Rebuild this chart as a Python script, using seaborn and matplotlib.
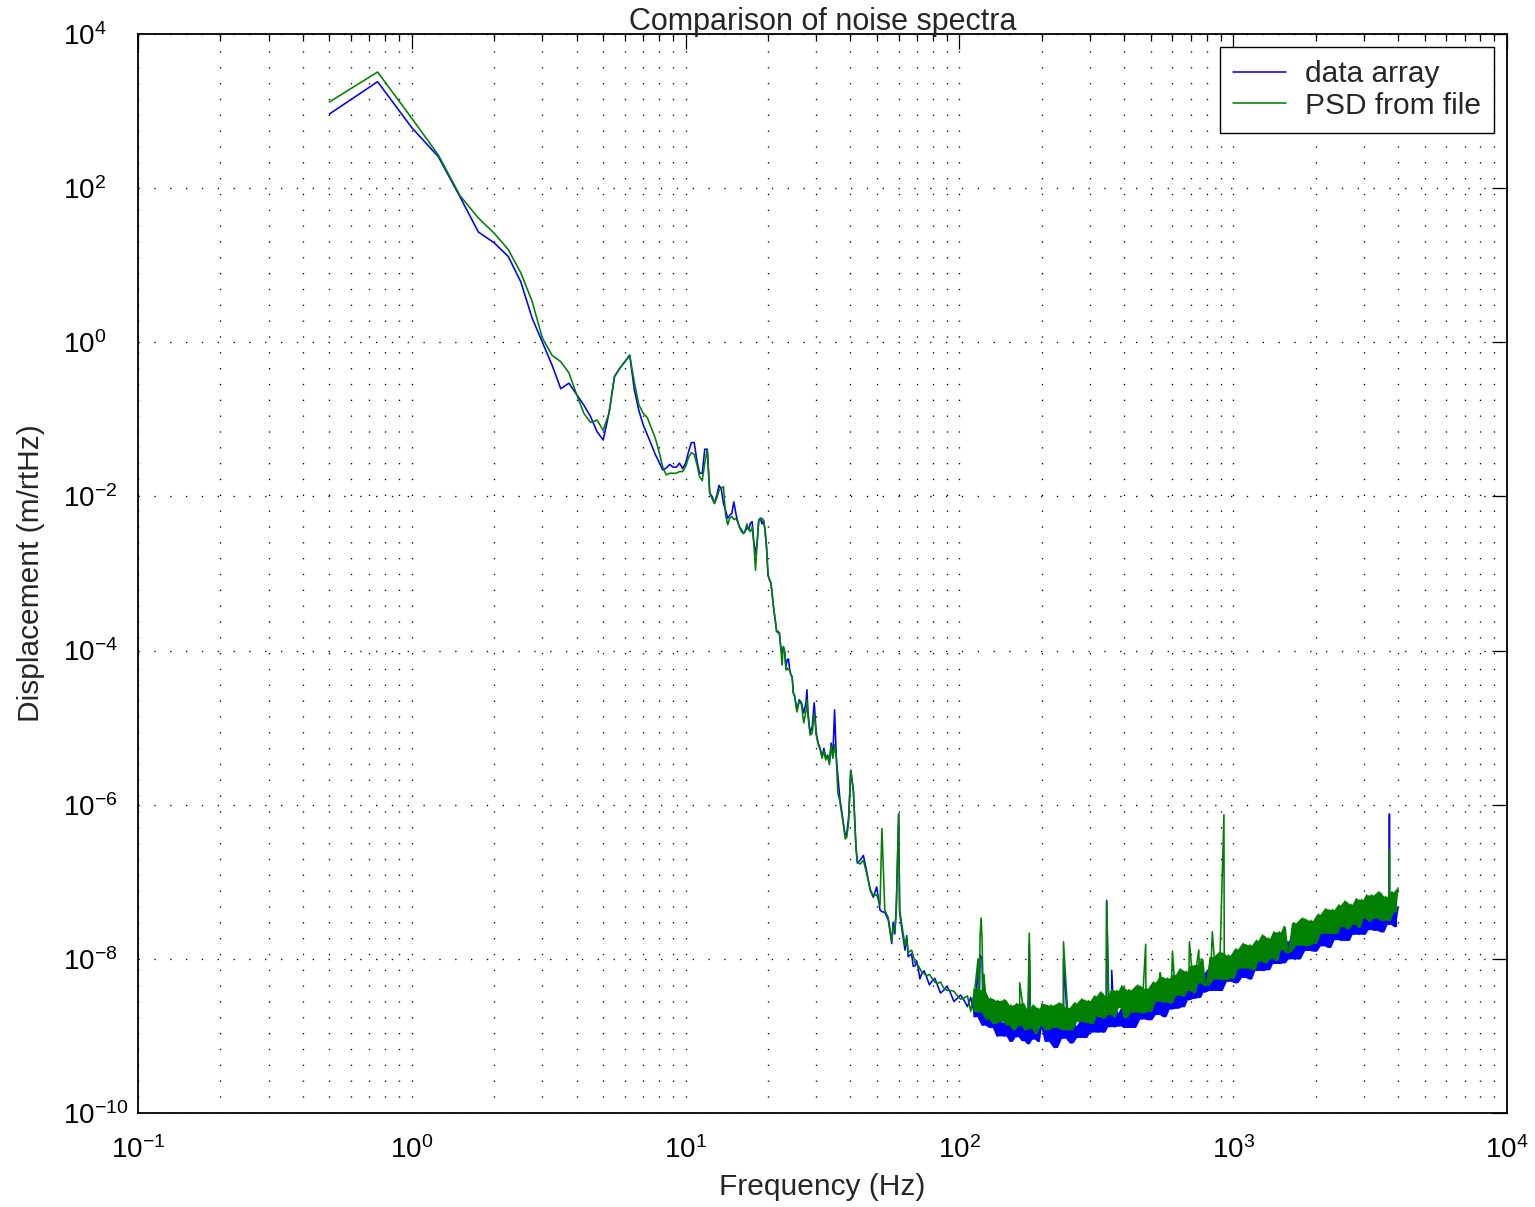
import numpy as np
import matplotlib
matplotlib.use("Agg")
import matplotlib.pyplot as plt
import seaborn as sns
from matplotlib.ticker import FixedLocator, LogLocator, NullLocator, NullFormatter, LogFormatterSciNotation

# ---------------- data ----------------
# low-frequency part, 0.25 Hz resolution (Hz, m/rtHz)
low_freq = [0.5, 0.75, 1.0, 1.25, 1.5, 1.75, 2.0, 2.25, 2.5, 2.75, 3.0, 3.25, 3.5, 3.75,
            4.0, 4.25, 4.5, 4.75, 5.0, 5.25, 5.5, 5.75, 6.0, 6.25, 6.5, 6.75, 7.0, 7.25,
            7.5, 7.75, 8.0, 8.25, 8.5, 8.75, 9.0, 9.25, 9.5, 9.75, 10.0, 10.25, 10.5,
            10.75, 11.0, 11.25, 11.5, 11.75, 12.0, 12.25, 12.5, 12.75, 13.0, 13.25, 13.5,
            13.75, 14.0, 14.25, 14.5, 14.75, 15.0, 15.25, 15.5, 15.75, 16.0, 16.25, 16.5,
            16.75, 17.0, 17.25, 17.5, 17.75, 18.0, 18.25, 18.5, 18.75, 19.0, 19.25, 19.5,
            19.75, 20.0, 20.25, 20.5, 20.75, 21.0, 21.25, 21.5, 21.75, 22.0, 22.25, 22.5,
            22.75, 23.0, 23.25, 23.5, 23.75, 24.0, 24.25, 24.5, 24.75, 25.0, 25.5, 26.0,
            26.5, 27.0, 27.5, 27.75, 28.0, 28.5, 29.0, 29.5, 30.0, 30.5, 31.0, 31.5, 32.0,
            32.5, 33.0, 33.5, 34.0, 34.5, 35.0, 35.5, 36.0]
blue_low = [915, 2404, 609, 256, 77, 27, 19.5, 13, 6.1, 2.07, 1.0, 0.51, 0.25, 0.295,
            0.21, 0.153, 0.108, 0.069, 0.054, 0.12, 0.36, 0.46, 0.56, 0.68, 0.24, 0.13,
            0.085, 0.063, 0.047, 0.035, 0.028, 0.022, 0.0234, 0.026, 0.024, 0.024, 0.027,
            0.023, 0.027, 0.038, 0.050, 0.050, 0.029, 0.020, 0.020, 0.041, 0.041, 0.011,
            0.010, 0.0081, 0.0104, 0.0139, 0.0125, 0.0081, 0.0066, 0.0052, 0.0057, 0.006,
            0.0085, 0.0061, 0.0047, 0.0040, 0.0037, 0.0033, 0.0035, 0.0040, 0.0037, 0.0045,
            0.0047, 0.0025, 0.0018, 0.0025, 0.0049, 0.0052, 0.0044, 0.0049, 0.0037, 0.0022,
            9.5e-4, 8.3e-4, 7.5e-4, 5.0e-4, 3.4e-4, 2.5e-4, 1.77e-4, 1.77e-4, 1.7e-4,
            1.12e-4, 9.3e-5, 1.12e-4, 9.3e-5, 6.2e-5, 7.6e-5, 7.8e-5, 5.6e-5, 4.8e-5,
            4.6e-5, 2.8e-5, 2.6e-5, 1.7e-5, 2.3e-5, 2.1e-5, 1.55e-5, 2.1e-5, 3.1e-5,
            1.55e-5, 8.5e-6, 1.03e-5, 2.1e-5, 8.5e-6, 6.3e-6, 5.4e-6, 4.2e-6, 5.4e-6,
            4.0e-6, 4.4e-6, 3.5e-6, 6.3e-6, 4.2e-6, 1.7e-5, 4.2e-6, 2.3e-6]
green_low = [1312, 3213, 806, 269, 80, 41, 26, 16, 8, 3.4, 1.13, 0.68, 0.56, 0.40,
             0.21, 0.12, 0.091, 0.098, 0.072, 0.12, 0.36, 0.46, 0.56, 0.68, 0.30, 0.155,
             0.12, 0.105, 0.077, 0.057, 0.038, 0.024, 0.019, 0.020, 0.020, 0.020, 0.021,
             0.021, 0.0245, 0.032, 0.037, 0.035, 0.026, 0.018, 0.016, 0.027, 0.041, 0.011,
             0.0093, 0.0081, 0.0095, 0.012, 0.0128, 0.0134, 0.0057, 0.0043, 0.0052, 0.0055,
             0.005, 0.0052, 0.0047, 0.0039, 0.0035, 0.0033, 0.0036, 0.0044, 0.0037, 0.0035,
             0.0040, 0.0025, 0.0011, 0.0025, 0.0049, 0.0052, 0.0052, 0.0049, 0.0037, 0.0022,
             9.5e-4, 8.3e-4, 7.5e-4, 5.0e-4, 3.4e-4, 2.5e-4, 1.77e-4, 1.7e-4, 1.7e-4,
             1.12e-4, 6.5e-5, 1.12e-4, 1.0e-4, 5.6e-5, 5.9e-5, 5.6e-5, 5.6e-5, 4.8e-5,
             4.6e-5, 2.8e-5, 2.6e-5, 1.6e-5, 2.2e-5, 2.0e-5, 1.15e-5, 1.6e-5, 2.3e-5,
             1.4e-5, 8.0e-6, 8.5e-6, 1.55e-5, 8.0e-6, 6.0e-6, 5.2e-6, 4.0e-6, 5.0e-6,
             3.8e-6, 4.4e-6, 3.3e-6, 5.8e-6, 4.0e-6, 6.0e-6, 4.0e-6, 1.4e-6]

# mid-frequency part (Hz, m/rtHz)
mid_freq = [36.6, 37.7, 38.3, 38.8, 39.4, 40.1, 41.0, 41.9, 42.4, 43.4, 44.6, 45.8,
            47.2, 48.5, 49.9, 51.3, 52.1, 53.4, 55.0, 56.6, 57.3, 58.1, 58.8, 60.0, 60.5,
            62.0, 63.3, 64.2, 65.0, 66.9, 67.8, 68.8, 69.7, 70.7, 71.7, 72.7, 74.3, 75.9,
            77.7, 79.6, 81.3, 83.1, 85.3, 87.6, 90.0, 92.5, 95.5, 98.5, 101.0, 104.0, 107.0]
blue_mid = [1.2e-6, 5.8e-7, 3.9e-7, 4.3e-7, 6.9e-7, 2.8e-6, 1.55e-6, 2.9e-7, 1.75e-7,
            1.9e-7, 2.2e-7, 1.4e-7, 7.8e-8, 6.3e-8, 8.6e-8, 4.3e-8, 4.1e-8, 4.0e-8, 3.2e-8,
            1.58e-8, 3.0e-8, 2.1e-8, 4.7e-8, 7.6e-7, 4.0e-8, 2.1e-8, 1.3e-8, 2.0e-8,
            1.07e-8, 1.16e-8, 8.0e-9, 8.1e-9, 9.5e-9, 7.7e-9, 5.5e-9, 6.3e-9, 7.0e-9,
            5.8e-9, 4.6e-9, 5.2e-9, 5.6e-9, 4.6e-9, 3.6e-9, 3.9e-9, 4.4e-9, 3.7e-9, 2.8e-9,
            3.1e-9, 3.4e-9, 2.9e-9, 2.4e-9]
green_mid = [1.1e-6, 5.5e-7, 3.6e-7, 3.8e-7, 6.0e-7, 2.8e-6, 1.5e-6, 2.7e-7, 1.8e-7,
             1.7e-7, 1.9e-7, 1.3e-7, 8.0e-8, 6.6e-8, 6.8e-8, 5.0e-8, 4.9e-7, 4.3e-8, 3.4e-8,
             1.7e-8, 2.6e-8, 2.3e-8, 4.0e-8, 7.6e-7, 4.3e-8, 2.4e-8, 1.5e-8, 1.9e-8,
             1.2e-8, 1.3e-8, 1.1e-8, 9.0e-9, 8.5e-9, 8.2e-9, 7.5e-9, 6.8e-9, 6.5e-9,
             6.0e-9, 6.3e-9, 5.5e-9, 5.0e-9, 4.8e-9, 5.0e-9, 4.2e-9, 3.9e-9, 3.9e-9, 3.8e-9,
             3.3e-9, 3.0e-9, 3.1e-9, 3.3e-9]

# noise floor, 110 Hz - 4 kHz (Hz, log10 of m/rtHz)
band_freq = (list(range(110, 200, 4)) + list(range(200, 400, 8)) + list(range(400, 800, 16))
             + list(range(800, 1600, 32)) + list(range(1600, 3200, 64))
             + list(range(3200, 4001, 100)))
blue_band_log10 = [
    -8.50, -8.75, -8.60, -8.86, -8.66, -8.89, -8.70, -9.00, -8.82, -9.00, -8.78, -9.07,
    -8.83, -9.01, -8.79, -9.06, -8.87, -9.10, -8.84, -9.04, -8.81, -9.07, -8.90,
    -8.83, -9.07, -8.89, -9.15, -8.85, -9.03, -8.80, -9.09, -8.86, -9.02, -8.78, -9.02,
    -8.78, -8.95, -8.70, -8.95, -8.75, -8.95, -8.69, -8.88, -8.62, -8.88, -8.69, -8.87,
    -8.63,
    -8.89, -8.60, -8.89, -8.59, -8.78, -8.50, -8.79, -8.53, -8.72, -8.43, -8.75, -8.44,
    -8.65, -8.35, -8.64, -8.39, -8.62, -8.31, -8.53, -8.22, -8.51, -8.28, -8.50, -8.21,
    -8.43,
    -8.16, -8.41, -8.16, -8.41, -8.10, -8.29, -8.02, -8.31, -8.06, -8.24, -7.96, -8.26,
    -7.96, -8.15, -7.86, -8.15, -7.91, -8.14, -7.84, -8.06, -7.76, -8.06, -7.84, -8.05,
    -7.77,
    -8.00, -7.71, -8.00, -7.70, -7.89, -7.61, -7.90, -7.64, -7.83, -7.54, -7.85, -7.55,
    -7.75, -7.46, -7.76, -7.52, -7.76, -7.45, -7.68, -7.38, -7.68, -7.46, -7.68, -7.40,
    -7.62,
    -7.36, -7.63, -7.39, -7.65, -7.35, -7.55, -7.29, -7.58, -7.33]
green_band_log10 = [
    -8.68, -8.38, -8.69, -8.40, -8.78, -8.51, -8.84, -8.54, -8.81, -8.53, -8.86, -8.60,
    -8.92, -8.58, -8.86, -8.57, -8.92, -8.65, -8.90, -8.60, -8.97, -8.64, -8.87,
    -8.58, -8.92, -8.60, -8.89, -8.57, -8.92, -8.63, -8.92, -8.57, -8.81, -8.52, -8.82,
    -8.54, -8.84, -8.48, -8.74, -8.43, -8.77, -8.48, -8.72, -8.40, -8.75, -8.41, -8.63,
    -8.35,
    -8.76, -8.40, -8.69, -8.34, -8.70, -8.38, -8.68, -8.30, -8.55, -8.23, -8.56, -8.25,
    -8.57, -8.20, -8.47, -8.13, -8.48, -8.16, -8.41, -8.08, -8.44, -8.07, -8.31, -8.00,
    -8.34,
    -8.34, -7.97, -8.26, -7.91, -8.27, -7.95, -8.25, -7.87, -8.12, -7.80, -8.12, -7.82,
    -8.14, -7.76, -8.03, -7.69, -8.05, -7.73, -7.99, -7.65, -8.02, -7.65, -7.88, -7.58,
    -7.92,
    -7.90, -7.53, -7.82, -7.47, -7.83, -7.50, -7.80, -7.42, -7.67, -7.35, -7.67, -7.36,
    -7.67, -7.30, -7.58, -7.25, -7.61, -7.29, -7.55, -7.22, -7.59, -7.23, -7.47, -7.17,
    -7.51,
    -7.17, -7.47, -7.13, -7.50, -7.19, -7.50, -7.13, -7.39, -7.08]

# narrow lines (Hz, log10 of m/rtHz)
blue_spike_freq = [117, 119, 121, 123, 180, 240, 345, 360, 3712, 3720, 3728]
blue_spike_log10 = [-8.05, -7.95, -8.00, -8.30, -7.80, -8.00, -7.24, -8.15, -7.50, -6.12, -7.55]
green_spike_freq = [117, 119, 120, 121, 123, 166, 180, 240, 345, 479, 541, 600, 692,
                    749, 839, 925, 3712, 3720, 3728]
green_spike_log10 = [-8.00, -7.70, -7.47, -7.75, -8.20, -8.31, -7.665, -7.78, -7.26,
                     -7.81, -8.18, -7.90, -7.78, -7.885, -7.65, -6.13, -7.30, -6.59, -7.35]

x_major = [1e-1, 1e0, 1e1, 1e2, 1e3, 1e4]
y_major = [1e-10, 1e-8, 1e-6, 1e-4, 1e-2, 1e0, 1e2, 1e4]


def assemble(f_lin, v_lin, f_log, v_log):
    f = np.concatenate([np.asarray(f_lin, float), np.asarray(f_log, float)])
    v = np.concatenate([np.asarray(v_lin, float), 10.0 ** np.asarray(v_log, float)])
    order = np.argsort(f, kind="stable")
    return f[order], v[order]


blue_f, blue_v = assemble(low_freq + mid_freq, blue_low + blue_mid,
                          band_freq + blue_spike_freq, blue_band_log10 + blue_spike_log10)
green_f, green_v = assemble(low_freq + mid_freq, green_low + green_mid,
                            band_freq + green_spike_freq, green_band_log10 + green_spike_log10)


def fill_band(ax, freq, logv, color, z):
    # fill the area swept by the zig-zag of the noisy floor
    f = np.asarray(freq, float)
    v = 10.0 ** np.asarray(logv, float)
    fm = np.sqrt(f[:-1] * f[1:])
    ax.fill_between(fm, np.minimum(v[:-1], v[1:]), np.maximum(v[:-1], v[1:]),
                    color=color, linewidth=0, zorder=z)


# ---------------- style ----------------
sns.set_style("white")
plt.rcParams["font.family"] = ["Liberation Sans", "DejaVu Sans"]
plt.rcParams["mathtext.fontset"] = "custom"
plt.rcParams["mathtext.rm"] = "Liberation Sans"
plt.rcParams["mathtext.it"] = "Liberation Sans:italic"
plt.rcParams["mathtext.bf"] = "Liberation Sans:bold"
plt.rcParams["axes.unicode_minus"] = True

W, H = 1535, 1207
fig = plt.figure(figsize=(W / 100, H / 100), dpi=100)
ax = fig.add_axes([138 / W, 1 - 1113 / H, (1507 - 138) / W, (1113 - 34) / H])
ax.set_xscale("log")
ax.set_yscale("log")

BLUE, GREEN = "#0000ff", "#008000"
sns.lineplot(x=blue_f, y=blue_v, ax=ax, color=BLUE, linewidth=1.15,
             estimator=None, sort=False, label="data array", zorder=3)
fill_band(ax, band_freq, blue_band_log10, BLUE, 3)
fill_band(ax, band_freq, green_band_log10, GREEN, 4)
sns.lineplot(x=green_f, y=green_v, ax=ax, color=GREEN, linewidth=1.15,
             estimator=None, sort=False, label="PSD from file", zorder=4)

ax.set_xlim(1e-1, 1e4)
ax.set_ylim(1e-10, 1e4)

ax.xaxis.set_major_locator(FixedLocator(x_major))
ax.xaxis.set_major_formatter(LogFormatterSciNotation())
ax.xaxis.set_minor_locator(LogLocator(base=10, subs=np.arange(2, 10)))
ax.xaxis.set_minor_formatter(NullFormatter())
ax.yaxis.set_major_locator(FixedLocator(y_major))
ax.yaxis.set_major_formatter(LogFormatterSciNotation())
ax.yaxis.set_minor_locator(NullLocator())

dot = (0, (1, 11))
ax.set_axisbelow(True)
ax.grid(True, which="major", axis="both", color="black", linestyle=dot, linewidth=0.95)
ax.grid(True, which="minor", axis="x", color="black", linestyle=dot, linewidth=0.95)

ax.tick_params(which="both", direction="in", top=True, right=True, color="black",
               width=0.9, labelsize=20, labelcolor="black")
ax.tick_params(which="major", length=10.5)
ax.tick_params(which="minor", length=5)
ax.tick_params(axis="x", which="major", pad=17)
ax.tick_params(axis="y", which="major", pad=54)
for lab in ax.get_yticklabels():
    lab.set_horizontalalignment("left")
for s in ax.spines.values():
    s.set_visible(True)
    s.set_color("black")
    s.set_linewidth(1.3)

ax.set_xlabel("Frequency (Hz)", fontsize=21.5, labelpad=6)
ax.set_ylabel("Displacement (m/rtHz)", fontsize=21.5, labelpad=13)
ax.set_title("Comparison of noise spectra", fontsize=22, pad=3)

leg = ax.legend(loc="upper right", frameon=True, fancybox=False, edgecolor="black",
                framealpha=1, fontsize=21.5, borderaxespad=0.42, handlelength=1.75,
                handletextpad=0.65, labelspacing=0.12, borderpad=0.45)
leg.get_frame().set_linewidth(1.0)
for line in leg.get_lines():
    line.set_linewidth(1.15)

fig.savefig("out.png", dpi=100)
